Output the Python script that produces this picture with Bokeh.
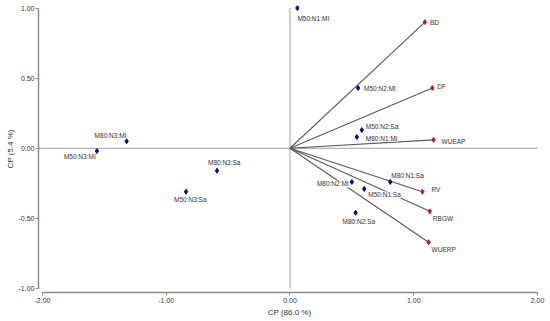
from bokeh.plotting import figure
from bokeh.models import Range1d, FixedTicker, NumeralTickFormatter, ColumnDataSource
from bokeh.core.properties import value
from bokeh.embed import file_html
from bokeh.resources import INLINE

# ---- data ----
obs_names = ["M50:N1:MI", "M50:N2:MI", "M50:N2:Sa", "M80:N1:MI", "M80:N3:MI", "M50:N3:MI",
             "M80:N3:Sa", "M50:N3:Sa", "M80:N1:Sa", "M80:N2:MI", "M50:N1:Sa", "M80:N2:Sa"]
obs_x = [0.06, 0.55, 0.58, 0.54, -1.32, -1.56, -0.59, -0.84, 0.81, 0.50, 0.60, 0.53]
obs_y = [1.00, 0.43, 0.13, 0.08, 0.05, -0.02, -0.16, -0.31, -0.24, -0.24, -0.29, -0.46]

var_names = ["BD", "DF", "WUEAP", "RV", "RBGW", "WUERP"]
var_x = [1.09, 1.15, 1.16, 1.07, 1.13, 1.12]
var_y = [0.90, 0.43, 0.06, -0.31, -0.45, -0.67]

x_ticks = [-2, -1, 0, 1, 2]
y_ticks = [-1, -0.5, 0, 0.5, 1]
x_title = "CP (86.0 %)"
y_title = "CP (5.4 %)"

# ---- label placement (screen px offsets) ----
obs_dx = [0, 6, 4, 9, -32, -33, -9, -12, 1, -35, 4, -13]
obs_dy = [10, 1, -4, 1, -6, 5, -8, 8, -6, 2, 6, 9]
var_dx = [5, 5, 8, 9, 3, 3]
var_dy = [0, -1, 2, -2, 7, 7]

FONT = "Liberation Sans"
AXIS_COLOR = "#8c8c8c"

p = figure(width=550, height=321, output_backend="svg", toolbar_location=None,
           x_range=Range1d(-2.032, 2.024), y_range=Range1d(-1.0285, 1.018),
           min_border_left=38, min_border_right=10, min_border_top=5, min_border_bottom=29)
p.grid.visible = False
p.outline_line_color = None
p.background_fill_color = "white"

# zero lines
p.segment(x0=[x_ticks[0] - 0.032, 0], y0=[0, y_ticks[0]], x1=[x_ticks[-1], 0], y1=[0, y_ticks[-1]],
          line_color="#a0a0a0", line_width=1)

# loading vectors
p.segment(x0=[0] * len(var_x), y0=[0] * len(var_y), x1=var_x, y1=var_y,
          line_color="#5a5a5a", line_width=1.1)

# labels with white background
lab_src = ColumnDataSource(dict(x=obs_x + var_x, y=obs_y + var_y, t=obs_names + var_names,
                                dx=obs_dx + var_dx, dy=obs_dy + var_dy))
p.text(x="x", y="y", text="t", x_offset="dx", y_offset="dy", source=lab_src,
       text_font=value(FONT), text_font_size="6.5px", text_color="#333333",
       text_align="left", text_baseline="middle",
       background_fill_color="white")

# markers
p.scatter(obs_x, obs_y, marker="diamond", size=5, fill_color="#0a0a80", line_color="#0a0a80")
p.scatter(var_x, var_y, marker="diamond", size=5, fill_color="#b0202a", line_color="#b0202a")

for ax, ticks, title, bounds in [(p.xaxis[0], x_ticks, x_title, (x_ticks[0], x_ticks[-1])),
                                 (p.yaxis[0], y_ticks, y_title, (y_ticks[0], y_ticks[-1]))]:
    ax.ticker = FixedTicker(ticks=ticks, minor_ticks=[])
    ax.formatter = NumeralTickFormatter(format="0.00")
    ax.bounds = bounds
    ax.axis_line_color = AXIS_COLOR
    ax.axis_line_width = 1.5
    ax.major_tick_line_color = AXIS_COLOR
    ax.major_tick_out = 3
    ax.major_tick_in = 0
    ax.minor_tick_line_color = None
    ax.major_label_text_font = FONT
    ax.major_label_text_font_size = "7px"
    ax.major_label_text_color = "#333333"
    ax.axis_label = title
    ax.axis_label_text_font = FONT
    ax.axis_label_text_font_size = "8px"
    ax.axis_label_text_font_style = "normal"
    ax.axis_label_text_color = "#333333"

p.xaxis[0].major_label_standoff = 2
p.xaxis[0].axis_label_standoff = 2
p.yaxis[0].major_label_standoff = 1
p.yaxis[0].axis_label_standoff = 1

open("out.html", "w").write(file_html(p, INLINE))
